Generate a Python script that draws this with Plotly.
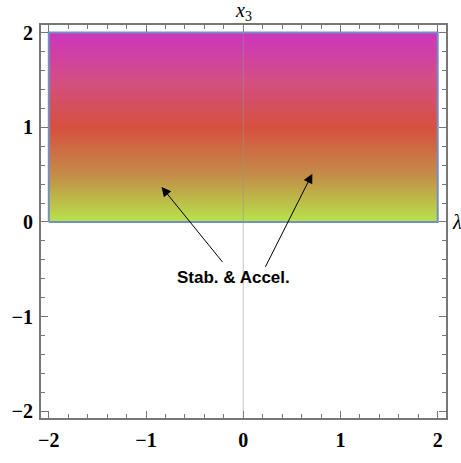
import numpy as np
import plotly.graph_objects as go

# Region: -2 <= lambda <= 2, 0 <= x3 <= 2
lam_range = [-2.0, 2.0]
x3_range = [0.0, 2.0]

# colour bands along x3 (bottom -> top)
band_pos = [0.0, 0.25, 0.5, 0.75, 1.0]
band_col = ["#b6e34a", "#c48b48", "#d6503f", "#d24f85", "#cc35be"]

# arrow annotations: head (x, y) and tail (ax, ay)
arrow_heads = [(-0.84, 0.37), (0.71, 0.51)]
arrow_tails = [(-0.20, -0.44), (0.22, -0.49)]
label_text = "Stab. & Accel."
label_pos = (-0.10, -0.59)

tick_vals = [-2, -1, 0, 1, 2]
tick_text = ["<b>\u22122</b>", "<b>\u22121</b>", "<b>0</b>", "<b>1</b>", "<b>2</b>"]

SERIF = "Times New Roman, Liberation Serif, serif"
SANS = "Arial, Liberation Sans, sans-serif"

# gradient fill via a heatmap (cell edges given explicitly)
n_rows = 240
y_edges = np.linspace(x3_range[0], x3_range[1], n_rows + 1)
y_mid = 0.5 * (y_edges[:-1] + y_edges[1:])
z = y_mid.reshape(-1, 1)

fig = go.Figure()
fig.add_trace(go.Heatmap(
    x=lam_range, y=y_edges, z=z,
    colorscale=[[p, c] for p, c in zip(band_pos, band_col)],
    zmin=x3_range[0], zmax=x3_range[1],
    showscale=False, hoverinfo="skip",
))

# region border
bx = [lam_range[0], lam_range[1], lam_range[1], lam_range[0], lam_range[0]]
by = [x3_range[0], x3_range[0], x3_range[1], x3_range[1], x3_range[0]]
fig.add_trace(go.Scatter(x=bx, y=by, mode="lines",
                         line=dict(color="#7290c6", width=2),
                         hoverinfo="skip", showlegend=False))

axis_common = dict(
    showgrid=False, zeroline=False,
    showline=True, linecolor="#777777", linewidth=2, mirror="ticks",
    ticks="inside", ticklen=7, tickwidth=1.3, tickcolor="#777777",
    tickvals=tick_vals, ticktext=tick_text,
    tickfont=dict(family=SERIF, size=20, color="black"),
    minor=dict(dtick=0.2, ticks="inside", ticklen=4, tickwidth=1, tickcolor="#777777"),
    layer="above traces",
)

fig.update_xaxes(range=[-2.08, 2.085], ticklabelstandoff=3, **axis_common)
fig.update_yaxes(range=[-2.07, 2.08], ticklabelstandoff=2, **axis_common)

# vertical axis line at lambda = 0, drawn over the fill
fig.add_shape(type="line", xref="x", yref="paper", x0=0, x1=0, y0=0, y1=1,
              line=dict(color="rgba(150,150,150,0.55)", width=1), layer="above")

annotations = []
for (hx, hy), (tx, ty) in zip(arrow_heads, arrow_tails):
    annotations.append(dict(
        x=hx, y=hy, ax=tx, ay=ty, xref="x", yref="y", axref="x", ayref="y",
        showarrow=True, arrowhead=2, arrowsize=1.9, arrowwidth=1,
        arrowcolor="black", text="",
    ))
annotations.append(dict(
    x=label_pos[0], y=label_pos[1], xref="x", yref="y", showarrow=False,
    text="<b>" + label_text + "</b>",
    font=dict(family=SANS, size=17, color="black"),
))
annotations.append(dict(
    x=0, y=1.0, xref="x", yref="paper", yanchor="bottom", yshift=-1,
    showarrow=False, text="<i>x</i><sub>3</sub>",
    font=dict(family=SERIF, size=20, color="black"),
))
annotations.append(dict(
    x=1.0, y=0, xref="paper", yref="y", xanchor="left", xshift=4,
    showarrow=False, text="<i>\u03bb</i>",
    font=dict(family=SERIF, size=20, color="black"),
))

fig.update_layout(
    width=461, height=463,
    margin=dict(l=40, r=15, t=25, b=31),
    paper_bgcolor="white", plot_bgcolor="white",
    showlegend=False,
    annotations=annotations,
)

fig.write_html("out.html")
